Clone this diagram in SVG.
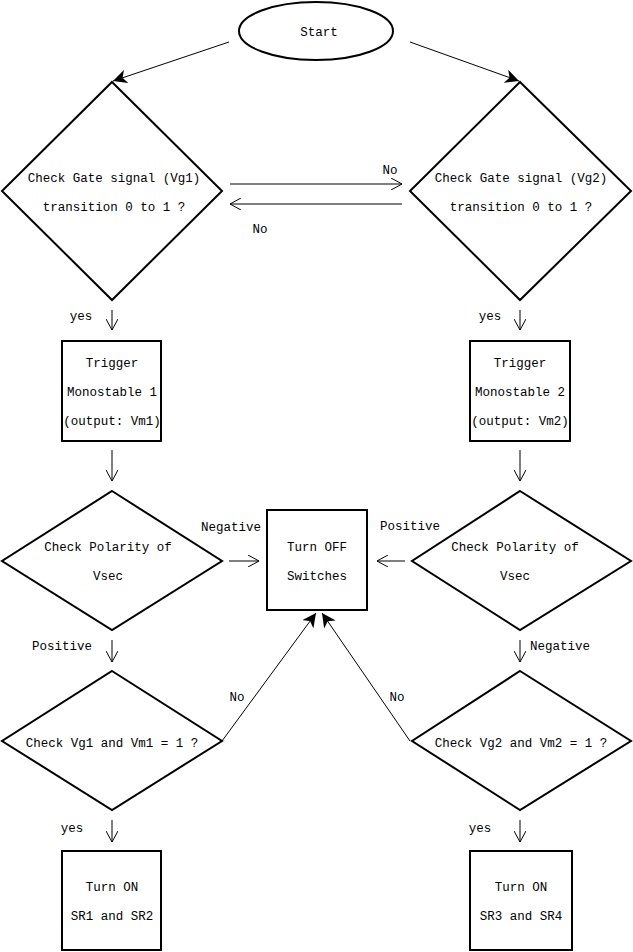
<svg xmlns="http://www.w3.org/2000/svg" width="633" height="952" viewBox="0 0 633 952">
<defs>
<marker id="f" viewBox="0 0 14 14" refX="14" refY="7" markerWidth="14" markerHeight="14" markerUnits="userSpaceOnUse" orient="auto"><path d="M0,0 L14,7 L0,14 L4,7 Z" fill="#000"/></marker>
<marker id="o" viewBox="0 0 12 12" refX="11" refY="6" markerWidth="12" markerHeight="12" markerUnits="userSpaceOnUse" orient="auto"><path d="M0,0 L11,6 L0,12" fill="none" stroke="#000" stroke-width="1"/></marker>
<style>
.s{fill:#fff;stroke:#000;stroke-width:2}
.c{fill:none;stroke:#000;stroke-width:1}
.cf{marker-end:url(#f)}
.co{marker-end:url(#o)}
text{font-family:"Liberation Mono","DejaVu Sans Mono",monospace;font-size:12.5px;fill:#000;text-anchor:middle}
.l{font-size:12.5px}
</style>
</defs>
<rect width="633" height="952" fill="#fff"/>
<g id="connectors">
<line class="c cf" x1="229" y1="42" x2="113" y2="81"/>
<line class="c cf" x1="410" y1="42" x2="519" y2="81"/>
<line class="c co" x1="230" y1="184" x2="402" y2="184"/>
<line class="c co" x1="402" y1="204" x2="230" y2="204"/>
<line class="c co" x1="112" y1="310" x2="112" y2="330"/>
<line class="c co" x1="520" y1="310" x2="520" y2="330"/>
<line class="c co" x1="112" y1="450" x2="112" y2="481"/>
<line class="c co" x1="520" y1="450" x2="520" y2="481"/>
<line class="c co" x1="229" y1="561" x2="259" y2="561"/>
<line class="c co" x1="405" y1="561" x2="377" y2="561"/>
<line class="c co" x1="112" y1="640" x2="112" y2="662"/>
<line class="c co" x1="520" y1="640" x2="520" y2="662"/>
<line class="c cf" x1="222" y1="741" x2="316" y2="613"/>
<line class="c cf" x1="410" y1="741" x2="322" y2="613"/>
<line class="c co" x1="112" y1="820" x2="112" y2="842"/>
<line class="c co" x1="520" y1="820" x2="520" y2="842"/>
<text class="l" x="390" y="174">No</text>
<text class="l" x="260" y="233">No</text>
<text class="l" x="81" y="320">yes</text>
<text class="l" x="490" y="320">yes</text>
<text class="l" x="231" y="531">Negative</text>
<text class="l" x="410" y="530">Positive</text>
<text class="l" x="62" y="650">Positive</text>
<text class="l" x="560" y="650">Negative</text>
<text class="l" x="237" y="701">No</text>
<text class="l" x="397" y="701">No</text>
<text class="l" x="72" y="832">yes</text>
<text class="l" x="480" y="832">yes</text>
</g>
<g id="start"><ellipse class="s" cx="316" cy="31" rx="77" ry="29"/><text x="319" y="36">Start</text></g>
<g id="d1"><path class="s" d="M112,82 L222,191 L112,300 L2,191 Z"/><text x="114" y="182">Check Gate signal (Vg1)</text><text x="114" y="211">transition 0 to 1 ?</text></g>
<g id="d2"><path class="s" d="M520,82 L631,191 L520,300 L410,191 Z"/><text x="521" y="182">Check Gate signal (Vg2)</text><text x="521" y="211">transition 0 to 1 ?</text></g>
<g id="b1"><rect class="s" x="62" y="341" width="99" height="100"/><text x="112" y="367">Trigger</text><text x="112" y="396">Monostable 1</text><text x="112" y="425">(output: Vm1)</text></g>
<g id="b2"><rect class="s" x="470" y="341" width="100" height="100"/><text x="520" y="367">Trigger</text><text x="520" y="396">Monostable 2</text><text x="520" y="425">(output: Vm2)</text></g>
<g id="d3"><path class="s" d="M112,491 L222,561 L112,630 L2,561 Z"/><text x="108" y="551">Check Polarity of</text><text x="108" y="580">Vsec</text></g>
<g id="d4"><path class="s" d="M520,491 L631,561 L520,630 L412,561 Z"/><text x="515" y="551">Check Polarity of</text><text x="515" y="580">Vsec</text></g>
<g id="off"><rect class="s" x="267" y="510" width="100" height="100"/><text x="317" y="551">Turn OFF</text><text x="317" y="580">Switches</text></g>
<g id="d5"><path class="s" d="M112,671 L222,741 L112,810 L2,741 Z"/><text x="112" y="747">Check Vg1 and Vm1 = 1 ?</text></g>
<g id="d6"><path class="s" d="M520,671 L631,741 L520,810 L412,741 Z"/><text x="521" y="747">Check Vg2 and Vm2 = 1 ?</text></g>
<g id="b7"><rect class="s" x="62" y="851" width="99" height="99"/><text x="112" y="891">Turn ON</text><text x="112" y="920">SR1 and SR2</text></g>
<g id="b8"><rect class="s" x="470" y="851" width="102" height="99"/><text x="521" y="891">Turn ON</text><text x="521" y="920">SR3 and SR4</text></g>
</svg>
